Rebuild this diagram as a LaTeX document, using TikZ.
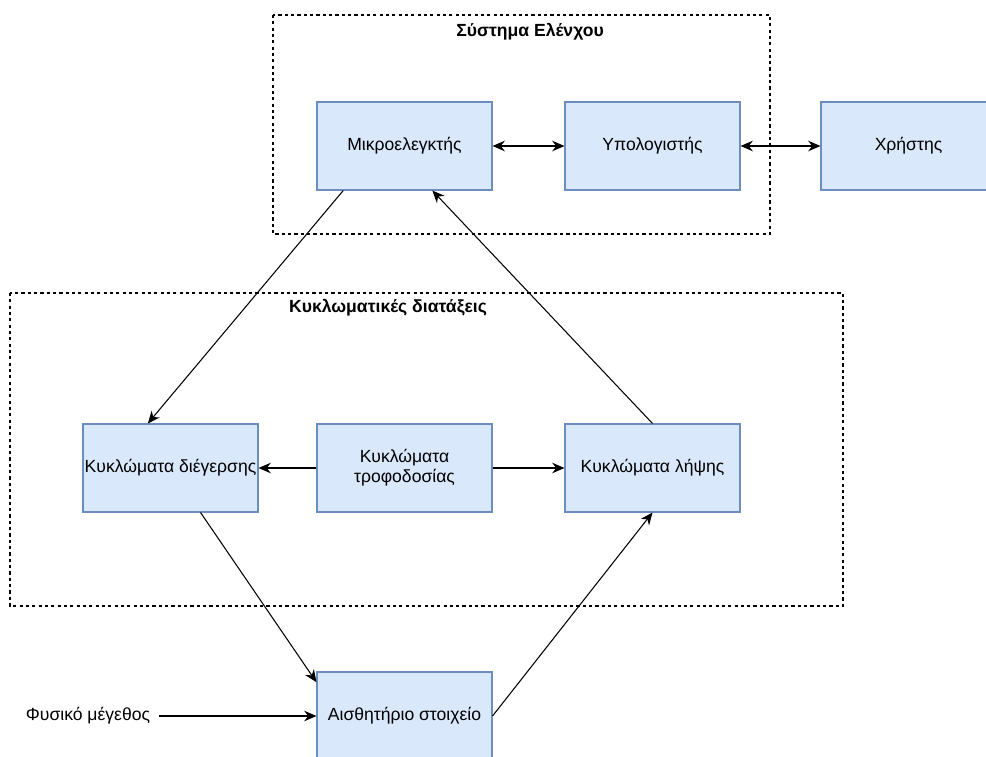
\documentclass[tikz,border=0pt]{standalone}
\usepackage{fontspec}
\setmainfont{Liberation Sans}
\usetikzlibrary{arrows.meta}

\definecolor{boxfill}{HTML}{DAE8FC}
\definecolor{boxline}{HTML}{6C8EBF}

\tikzset{
  block/.style={draw=boxline, fill=boxfill, line width=0.6pt,
    minimum width=3.5cm, minimum height=1.76cm, align=center,
    inner xsep=0.5pt, font=\fontsize{10}{11.5}\selectfont},
  group/.style={draw, line width=0.6pt, dash pattern=on 1.8pt off 1.8pt},
  grouptitle/.style={font=\fontsize{10}{11.5}\selectfont\bfseries},
  link/.style={line width=0.6pt, -{Stealth[length=7pt, width=6pt]}},
  biglink/.style={line width=0.6pt, {Stealth[length=7pt, width=6pt]}-{Stealth[length=7pt, width=6pt]}}
}

\begin{document}
\begin{tikzpicture}
  \useasboundingbox (0,0) rectangle (19.72,-15.12);

  % --- Control system ---
  \draw[group] (5.46,-0.3) rectangle (15.4,-4.68);
  \node[grouptitle] (ctrltitle) at (10.6,-0.64) {Σύστημα Ελένχου};
  \node[block] (mcu) at (8.09,-2.92) {Μικροελεγκτής};
  \node[block] (pc) at (13.05,-2.92) {Υπολογιστής};
  \node[block] (user) at (18.17,-2.92) {Χρήστης};

  % --- Circuits ---
  \draw[group] (0.2,-5.86) rectangle (16.86,-12.12);
  \node[grouptitle] (circtitle) at (7.76,-6.16) {Κυκλωματικές διατάξεις};
  \node[block] (drive) at (3.41,-9.36) {Κυκλώματα διέγερσης};
  \node[block] (power) at (8.09,-9.36) {Κυκλώματα\\τροφοδοσίας};
  \node[block] (recv) at (13.05,-9.36) {Κυκλώματα λήψης};

  % --- Sensor ---
  \node[block] (sensor) at (8.09,-14.32) {Αισθητήριο στοιχείο};
  \node[font=\fontsize{10}{11.5}\selectfont, inner sep=2pt] (quantity) at (1.76,-14.32) {Φυσικό μέγεθος};

  % --- Links ---
  \draw[biglink] (mcu) -- (pc);
  \draw[biglink] (pc) -- (user);
  \draw[link] (power) -- (drive);
  \draw[link] (power) -- (recv);
  \draw[link] (mcu.216) -- (drive.117);
  \draw[link] (recv.north) -- (mcu.302);
  \draw[link] (drive.304) -- (sensor.159);
  \draw[link] (sensor.east) -- (recv.south);
  \draw[link] ([xshift=3pt]quantity.east) -- (sensor);
\end{tikzpicture}
\end{document}
